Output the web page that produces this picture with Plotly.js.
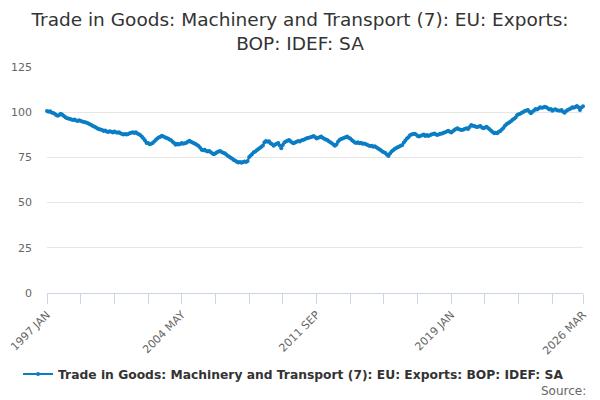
<!DOCTYPE html>
<html>
<head>
<meta charset="utf-8">
<script src="https://cdn.plot.ly/plotly-3.0.1.min.js"></script>
<style>
  html, body { margin: 0; padding: 0; background: #fff; }
  #chart { width: 600px; height: 400px; }
</style>
</head>
<body>
<div id="chart"></div>
<script>
// Trade in Goods: Machinery and Transport (7): EU: Exports, monthly index

const MONTHS = ["JAN", "FEB", "MAR", "APR", "MAY", "JUN", "JUL", "AUG", "SEP", "OCT", "NOV", "DEC"];
const FIRST_YEAR = 1997;

const seriesName = "Trade in Goods: Machinery and Transport (7): EU: Exports: BOP: IDEF: SA";

// one row per year
const exportsIndex = [
  100.6, 100.3, 100.5, 99.8, 99.5, 99.2, 98.4, 98.0, 98.5, 99.2, 98.6, 97.9,   // 1997
  97.2, 96.7, 96.5, 96.2, 96.0, 95.7, 95.9, 95.4, 95.2, 95.6, 95.1, 94.9,      // 1998
  94.6, 94.5, 94.1, 93.8, 93.4, 92.9, 92.3, 92.0, 91.5, 91.0, 90.6, 90.5,      // 1999
  90.1, 89.6, 89.9, 89.3, 89.0, 89.5, 89.2, 88.8, 89.3, 88.9, 88.6, 88.9,      // 2000
  88.4, 88.0, 87.7, 87.9, 87.6, 88.0, 88.3, 88.6, 88.9, 88.5, 88.9, 88.2,      // 2001
  87.8, 87.3, 86.4, 85.4, 84.3, 83.0, 82.9, 82.3, 82.6, 83.0, 83.8, 84.6,      // 2002
  85.4, 86.0, 86.4, 87.0, 86.6, 86.2, 85.7, 85.4, 84.9, 84.5, 83.6, 82.9,      // 2003
  82.0, 82.5, 82.1, 82.4, 82.9, 82.6, 82.8, 83.1, 83.6, 84.2, 83.7, 83.3,      // 2004
  82.8, 82.4, 81.9, 81.3, 80.4, 79.3, 78.9, 79.3, 78.5, 78.2, 78.6, 77.9,      // 2005
  77.2, 76.7, 77.3, 77.8, 78.2, 78.5, 78.0, 77.6, 77.3, 76.6, 75.9, 75.4,      // 2006
  74.8, 74.2, 73.6, 73.1, 72.6, 72.2, 72.5, 72.1, 72.4, 72.8, 72.5, 73.0,      // 2007
  75.2, 76.0, 76.9, 77.8, 78.3, 79.0, 79.6, 80.2, 80.9, 81.6, 83.4, 84.1,      // 2008
  83.6, 83.9, 82.8, 82.3, 81.5, 82.1, 82.5, 82.9, 81.6, 80.0, 81.9, 83.3,      // 2009
  83.8, 84.2, 84.6, 83.9, 83.3, 82.8, 83.2, 83.7, 84.1, 83.8, 84.3, 84.6,      // 2010
  84.9, 85.3, 85.7, 85.9, 86.2, 86.4, 86.8, 86.3, 85.5, 85.9, 86.2, 86.5,      // 2011
  85.9, 85.3, 84.9, 84.6, 84.0, 83.4, 82.8, 82.1, 81.4, 82.2, 83.7, 84.6,      // 2012
  85.2, 85.5, 85.9, 86.2, 86.5, 85.8, 85.4, 84.6, 84.0, 83.2, 83.0, 83.4,      // 2013
  82.8, 83.1, 82.6, 82.7, 82.4, 82.0, 81.6, 81.3, 81.5, 80.9, 81.2, 80.6,      // 2014
  80.1, 79.5, 79.0, 78.2, 77.8, 77.4, 76.5, 75.8, 77.2, 78.3, 78.9, 79.6,      // 2015
  80.2, 80.6, 81.0, 81.4, 81.8, 83.2, 84.4, 85.5, 86.1, 87.2, 87.6, 87.9,      // 2016
  88.1, 87.6, 86.9, 86.5, 87.0, 87.3, 87.6, 86.9, 87.4, 86.8, 87.2, 87.6,      // 2017
  87.9, 88.2, 87.6, 87.4, 87.8, 88.1, 88.2, 88.7, 88.9, 89.3, 89.8, 89.2,      // 2018
  88.8, 89.5, 90.2, 90.7, 91.1, 90.6, 90.3, 90.2, 90.5, 90.9, 91.1, 90.7,      // 2019
  91.8, 92.9, 92.5, 92.3, 92.0, 91.8, 92.1, 92.4, 91.6, 91.1, 91.5, 92.0,      // 2020
  91.3, 90.6, 89.8, 89.0, 88.3, 88.6, 88.4, 89.2, 89.6, 90.5, 91.3, 92.5,      // 2021
  93.3, 93.9, 94.5, 95.0, 95.8, 96.4, 97.0, 98.5, 98.8, 99.1, 99.7, 100.1,     // 2022
  100.6, 101.0, 101.2, 100.3, 99.4, 100.2, 101.0, 101.8, 101.5, 102.1, 102.7, 102.4, // 2023
  102.6, 103.0, 102.7, 102.2, 101.5, 101.8, 100.8, 101.3, 101.6, 101.1, 100.9, 100.8, // 2024
  101.2, 100.3, 99.7, 100.6, 101.2, 101.6, 102.1, 102.7, 102.4, 102.9, 103.4, 102.8,  // 2025
  101.2, 102.6, 103.3                                                          // 2026
];

const labelledTicks = ["1997 JAN", "2004 MAY", "2011 SEP", "2019 JAN", "2026 MAR"];
const yTicks = [0, 25, 50, 75, 100, 125];

// month labels "1997 JAN" ... one per value
const periods = exportsIndex.map((v, i) =>
  (FIRST_YEAR + Math.floor(i / 12)) + " " + MONTHS[i % 12]);

// tick marks every 22 months plus the last one, text only on some
const tickVals = [];
for (let i = 0; i < periods.length; i += 22) tickVals.push(periods[i]);
tickVals.push(periods[periods.length - 1]);
const tickText = tickVals.map(p => labelledTicks.includes(p) ? p : "");

const blue = "#0b7dc4";

const trace = {
  x: periods,
  y: exportsIndex,
  type: "scatter",
  mode: "lines+markers",
  name: seriesName,
  line: { color: blue, width: 2 },
  marker: { color: blue, size: 4 },
  cliponaxis: false,
  hovertemplate: "%{x}<br>%{y}<extra></extra>",
};

const layout = {
  width: 600,
  height: 400,
  margin: { t: 67, l: 47, r: 17, b: 107 },
  paper_bgcolor: "#ffffff",
  plot_bgcolor: "#ffffff",
  font: { family: "DejaVu Sans, sans-serif", color: "#666666", size: 11 },
  title: {
    text: "Trade in Goods: Machinery and Transport (7): EU: Exports:<br>BOP: IDEF: SA",
    font: { size: 18.5, color: "#333333" },
    x: 0.5,
    xanchor: "center",
    yref: "container",
    y: 0.935,
    yanchor: "top",
  },
  showlegend: true,
  legend: {
    orientation: "h",
    x: 0.46,
    xanchor: "center",
    y: -0.358,
    yanchor: "middle",
    font: { size: 12.3, color: "#333333", weight: "bold" },
  },
  xaxis: {
    type: "category",
    range: [0, periods.length - 1],
    tickmode: "array",
    tickvals: tickVals,
    ticktext: tickText,
    tickangle: -45,
    ticks: "outside",
    ticklen: 10,
    tickcolor: "#ccd6eb",
    showline: true,
    linecolor: "#ccd6eb",
    linewidth: 1,
    showgrid: false,
    zeroline: false,
    tickfont: { size: 11, color: "#666666" },
    fixedrange: true,
  },
  yaxis: {
    range: [0, 125],
    tickmode: "array",
    tickvals: yTicks,
    showgrid: true,
    gridcolor: "#e6e6e6",
    zeroline: false,
    showline: false,
    ticklabelstandoff: 14,
    tickfont: { size: 11, color: "#666666" },
    fixedrange: true,
  },
  annotations: [{
    text: "Source:",
    xref: "paper",
    yref: "paper",
    x: 1.009,
    xanchor: "right",
    y: -0.434,
    yanchor: "middle",
    showarrow: false,
    font: { size: 12, color: "#666666" },
  }],
};

Plotly.newPlot("chart", [trace], layout, { displayModeBar: false, responsive: false });
</script>
</body>
</html>
